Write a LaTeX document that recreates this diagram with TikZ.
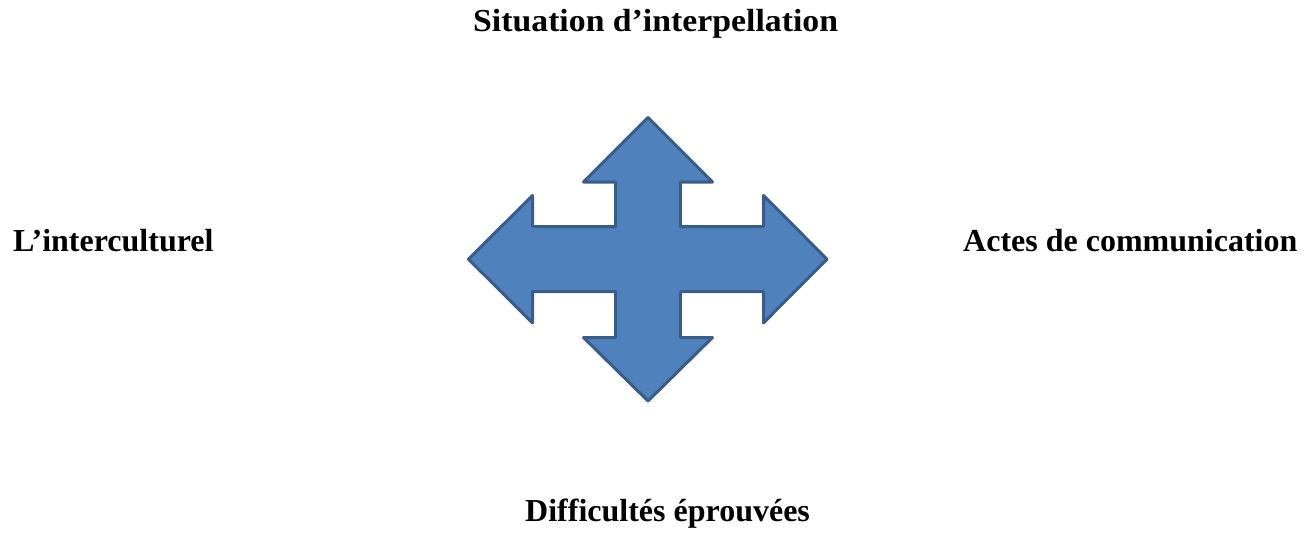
\documentclass[tikz,border=0pt]{standalone}
\usepackage{fontspec}
\setmainfont{Liberation Serif}
\definecolor{crossfill}{HTML}{4F81BD}
\definecolor{crossline}{HTML}{385D8A}
\begin{document}
\begin{tikzpicture}[x=1pt,y=-1pt,
  lbl/.style={inner sep=0pt,anchor=base west,font=\bfseries\fontsize{32}{38}\selectfont},
  cross/.style={fill=crossfill,draw=crossline,line width=3pt,line join=round}]
\useasboundingbox (0,0) rectangle (1310,535);
\draw[cross] (648,117.5) -- (712.5,182) -- (680.3,182) -- (680.3,226.7) -- (763.5,226.7) -- (763.5,195.5)
  -- (827,259.2) -- (763.5,322.9) -- (763.5,291.7) -- (680.3,291.7) -- (680.3,337.5) -- (712.5,337.5)
  -- (648,401) -- (583.5,337.5) -- (615.7,337.5) -- (615.7,291.7) -- (532.5,291.7) -- (532.5,322.9)
  -- (468.5,259.2) -- (532.5,195.5) -- (532.5,226.7) -- (615.7,226.7) -- (615.7,182) -- (583.5,182) -- cycle;
\node[lbl] (top) at (473,32) {\scalebox{1.055}[1]{Situation d’interpellation}};
\node[lbl] (left) at (13,251.5) {L’interculturel};
\node[lbl] (right) at (963,251.5) {Actes de communication};
\node[lbl] (bottom) at (525,521.5) {Difficultés éprouvées};
\end{tikzpicture}
\end{document}
